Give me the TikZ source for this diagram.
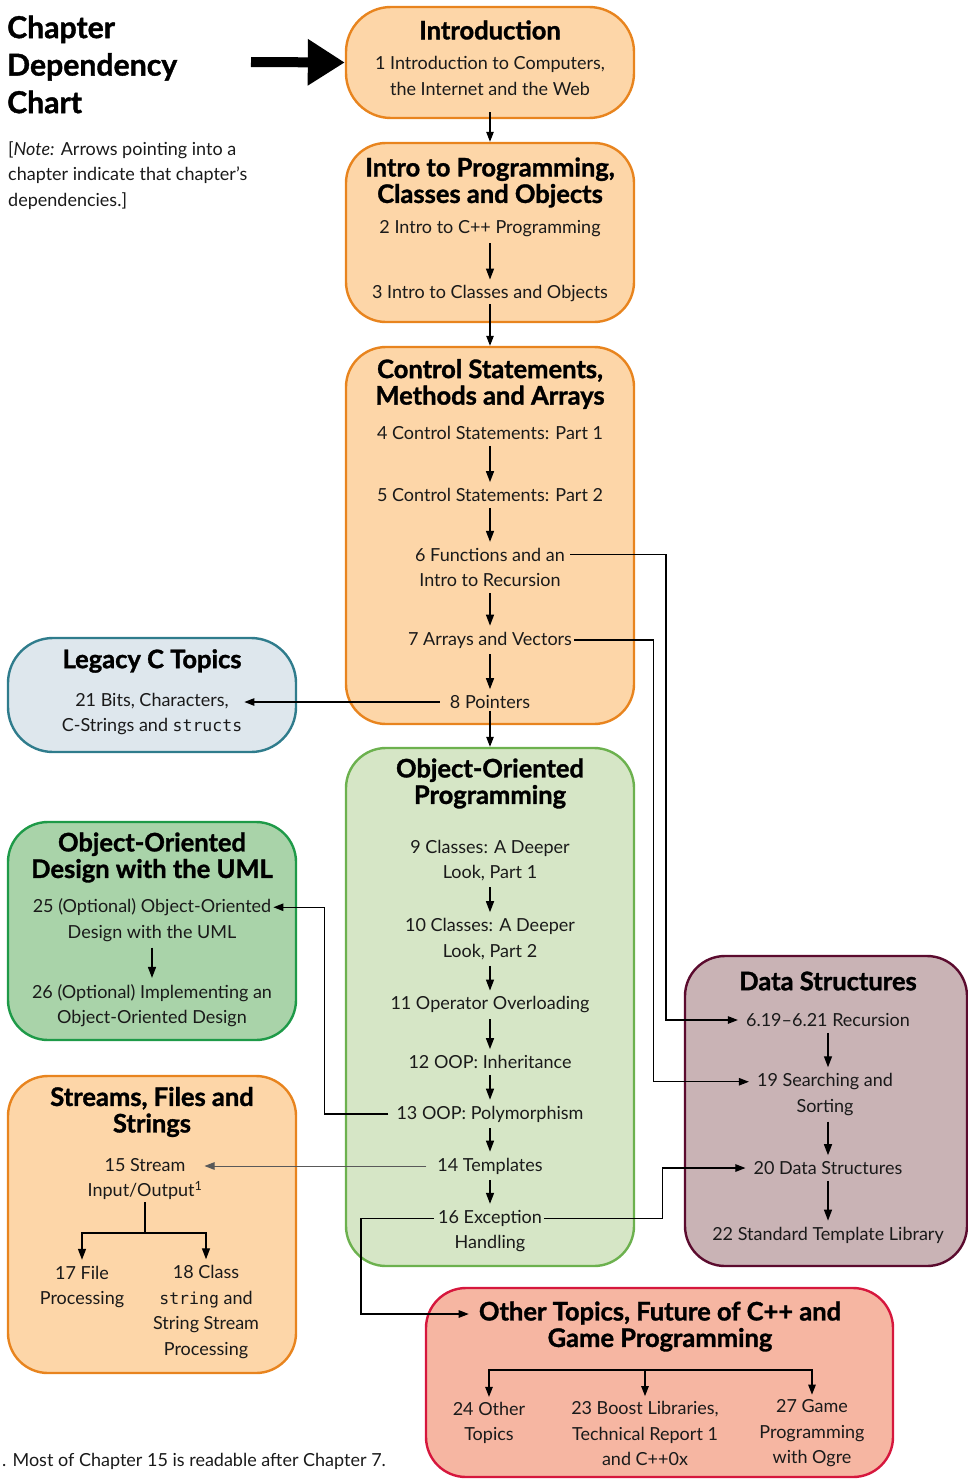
\documentclass[tikz,border=0pt]{standalone}
\usepackage{fontspec}
\setmainfont{Lato}
\newfontfamily\hdfont{Lato}[BoldFeatures={FakeBold=1.3}]
\newfontfamily\codefont{DejaVu Sans Mono}
\usetikzlibrary{arrows.meta}
\definecolor{orangefill}{HTML}{FDD6A8}
\definecolor{orangeline}{HTML}{E8841E}
\definecolor{legfill}{HTML}{DEE7ED}
\definecolor{legline}{HTML}{2F7C8C}
\definecolor{oopfill}{HTML}{D6E6C6}
\definecolor{oopline}{HTML}{6CB14E}
\definecolor{umlfill}{HTML}{A9D3A9}
\definecolor{umlline}{HTML}{1E9A48}
\definecolor{dsfill}{HTML}{C9B3B5}
\definecolor{dsline}{HTML}{5B0B2E}
\definecolor{othfill}{HTML}{F6B6A2}
\definecolor{othline}{HTML}{D6173D}
\definecolor{textc}{HTML}{1A1A1A}
\newcommand{\code}[1]{{\codefont\fontsize{16.5}{20}\selectfont #1}}
\tikzset{
  box/.style={draw, rectangle, rounded corners=40pt, line width=2.4pt, inner sep=0pt},
  obox/.style={box, draw=orangeline, fill=orangefill},
  t/.style={font=\fontsize{18}{25.5}\selectfont, align=center, inner sep=2pt, text=textc},
  hd/.style={font=\hdfont\bfseries\fontsize{25.5}{26.5}\selectfont, align=center, inner sep=2pt},
  arr/.style={-{Triangle[length=11pt,width=8pt]}, line width=1.4pt, shorten <=4pt, shorten >=4pt},
  conn/.style={-{Triangle[length=10pt,width=7.5pt]}, line width=1.1pt},
}
\begin{document}
\begin{tikzpicture}[x=1pt,y=-1pt]
\useasboundingbox (0,0) rectangle (968,1480);
% ---------- boxes ----------
\node[obox, minimum width=288pt, minimum height=111pt, rounded corners=45pt] (bIntro) at (490,62.5) {};
\node[obox, minimum width=288pt, minimum height=179pt] (bIP) at (490,232.5) {};
\node[obox, minimum width=288pt, minimum height=377pt] (bCS) at (490,535.5) {};
\node[box, draw=legline, fill=legfill, minimum width=288pt, minimum height=114pt, rounded corners=45pt] (bLeg) at (152,695) {};
\node[box, draw=oopline, fill=oopfill, minimum width=288pt, minimum height=518pt] (bOOP) at (490,1007) {};
\node[box, draw=umlline, fill=umlfill, minimum width=288pt, minimum height=218pt] (bUML) at (152,931) {};
\node[obox, minimum width=288pt, minimum height=297pt] (bStr) at (152,1224.5) {};
\node[box, draw=dsline, fill=dsfill, minimum width=282pt, minimum height=310pt] (bDS) at (826,1111) {};
\node[box, draw=othline, fill=othfill, minimum width=467pt, minimum height=189pt] (bOth) at (659.5,1382.5) {};
% ---------- title and note ----------
\node[anchor=west, align=left, inner sep=0pt, font=\hdfont\bfseries\fontsize{30.2}{37.5}\selectfont] (title) at (7,64.5) {Chapter\\Dependency\\Chart};
\node[anchor=west, align=left, inner sep=0pt, font=\fontsize{18}{25.5}\selectfont, text=textc] (note) at (8,175.5) {[\textit{Note:} Arrows pointing into a\\chapter indicate that chapter’s\\dependencies.]};
\node[anchor=west, inner sep=0pt, font=\fontsize{18}{22}\selectfont, text=textc] (foot) at (2,1461) {. Most of Chapter 15 is readable after Chapter 7.};
% ---------- Introduction ----------
\node[hd] (hIntro) at (490,30) {Introduction};
\node[t] (c1) at (490,76) {1 Introduction to Computers,\\the Internet and the Web};
% ---------- Intro to programming ----------
\node[hd] (hIP) at (490,182.5) {Intro to Programming,\\Classes and Objects};
\node[t] (c2) at (490,229) {2 Intro to C++ Programming};
\node[t] (c3) at (490,294) {3 Intro to Classes and Objects};
% ---------- Control statements ----------
\node[hd] (hCS) at (490,384) {Control Statements,\\Methods and Arrays};
\node[t] (c4) at (490,433) {4 Control Statements: Part 1};
\node[t] (c5) at (490,495) {5 Control Statements: Part 2};
\node[t] (c6) at (490,567.5) {6 Functions and an\\Intro to Recursion};
\node[t] (c7) at (490,640) {7 Arrays and Vectors};
\node[t] (c8) at (490,702) {8 Pointers};
% ---------- Legacy C ----------
\node[hd] (hLeg) at (152,661) {Legacy C Topics};
\node[t] (l21) at (152,714) {21 Bits, Characters,\\C-Strings and \code{structs}};
% ---------- OOP ----------
\node[hd] (hOOP) at (490,783.5) {Object-Oriented\\Programming};
\node[t] (c9) at (490,860.5) {9 Classes: A Deeper\\Look, Part 1};
\node[t] (c10) at (490,939) {10 Classes: A Deeper\\Look, Part 2};
\node[t] (c11) at (490,1005) {11 Operator Overloading};
\node[t] (c12) at (490,1062) {12 OOP: Inheritance};
\node[t] (c13) at (490,1114) {13 OOP: Polymorphism};
\node[t] (c14) at (490,1166) {14 Templates};
\node[t] (c16) at (490,1231) {16 Exception\\Handling};
% ---------- UML ----------
\node[hd] (hUML) at (152,857.5) {Object-Oriented\\Design with the UML};
\node[t] (u25) at (152,920) {25 (Optional) Object-Oriented\\Design with the UML};
\node[t] (u26) at (152,1005.5) {26 (Optional) Implementing an\\Object-Oriented Design};
% ---------- Streams ----------
\node[hd] (hStr) at (152,1112) {Streams, Files and\\Strings};
\node[t] (s15) at (145,1179) {15 Stream\\Input/Output\textsuperscript{1}};
\node[t] (s17) at (82,1287) {17 File\\Processing};
\node[t] (s18) at (206,1312) {18 Class\\\code{string} and\\String Stream\\Processing};
% ---------- Data structures ----------
\node[hd] (hDS) at (828,981) {Data Structures};
\node[t] (d619) at (828,1020) {6.19–6.21 Recursion};
\node[t] (d19) at (825,1094.5) {19 Searching and\\Sorting};
\node[t] (d20) at (828,1168) {20 Data Structures};
\node[t] (d22) at (828,1235) {22 Standard Template Library};
% ---------- Other topics ----------
\node[hd] (hOth) at (660,1326.5) {Other Topics, Future of C++ and\\Game Programming};
\node[t] (o24) at (489,1423) {24 Other\\Topics};
\node[t] (o23) at (645,1433.5) {23 Boost Libraries,\\Technical Report 1\\and C++0x};
\node[t] (o27) at (812,1433.5) {27 Game\\Programming\\with Ogre};
% ---------- connectors ----------
\coordinate (bigA) at (251,62);
\draw[line width=10pt, -{Triangle[length=37pt,width=44pt]}] (bigA) -- (bIntro.west);
\draw[conn] ([yshift=7pt]bIntro.south) -- (bIP.north);
\draw[arr] (c2) -- (c3);
\draw[conn] (c3.south) -- (bCS.north);
\draw[arr] (c4) -- (c5);
\draw[arr] (c5) -- (c6);
\draw[arr] (c6) -- (c7);
\draw[arr] (c7) -- (c8);
\draw[conn] (c8.south) -- (bOOP.north);
\draw[conn] ([xshift=-8pt]c8.west) -- (c8.west -| l21.east);
\draw[arr] (c9) -- (c10);
\draw[arr] (c10) -- (c11);
\draw[arr] (c11) -- (c12);
\draw[arr] (c12) -- (c13);
\draw[arr] (c13) -- (c14);
\draw[arr] (c14) -- (c16);
\draw[arr] (u25) -- (u26);
\draw[arr] (d619.south) -- (d619.south |- d19.north);
\draw[arr] (d619.south |- d19.south) -- (d20.north);
\draw[arr] (d20) -- (d22);
% cross connectors
\draw[conn] ([yshift=12.75pt,xshift=3pt]c6.east) -- ++(96,0) |- ([xshift=-6pt]d619.west);
\draw[conn] (c7.east) -- ++(79,0) |- ([yshift=12.75pt,xshift=-6pt]d19.west);
\draw[conn] ([xshift=-6pt]c13.west) -- ++(-64,0) |- ([yshift=12.75pt]u25.east);
\draw[conn, draw=black!65, line width=0.9pt] ([xshift=-9pt]c14.west) -- (c14.west -| s15.east);
\draw[conn] ([yshift=12.75pt]c16.east) -- ++(118,0) |- ([xshift=-6pt]d20.west);
\draw[conn] ([yshift=12.75pt,xshift=-2pt]c16.west) -- ++(-73,0) |- ([yshift=12.5pt,xshift=-8pt]hOth.west);
% streams tree
\coordinate (sbar) at (145,1233);
\draw[line width=1.4pt] (s15.south) -- (sbar);
\draw[arr, shorten <=0pt] (sbar) -| (s17.north);
\draw[arr, shorten <=0pt] (sbar) -| (s18.north);
% other tree
\coordinate (obar) at (645,1370);
\draw[conn, line width=1.2pt, shorten >=3pt] (obar) -| (o24.north);
\draw[conn, line width=1.2pt, shorten >=3pt] (obar) -- (o23.north);
\draw[conn, line width=1.2pt, shorten >=3pt] (obar) -| (o27.north);
\end{tikzpicture}
\end{document}
